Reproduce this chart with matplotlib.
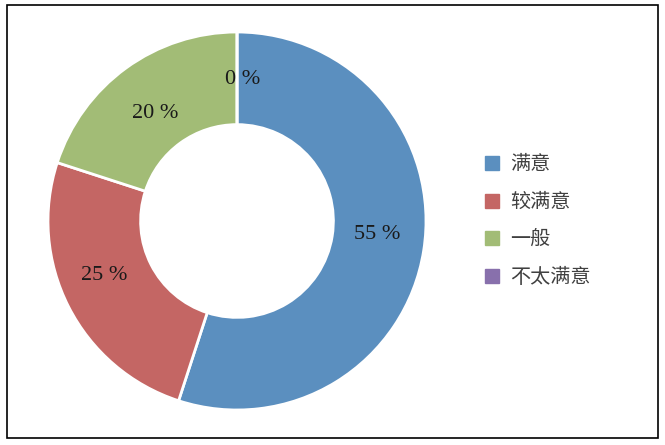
import matplotlib
matplotlib.use("Agg")
import matplotlib.pyplot as plt
from matplotlib.lines import Line2D
from matplotlib.patches import Rectangle
import numpy as np

categories = ["满意", "较满意", "一般", "不太满意"]
values = [55, 25, 20, 0]
pct_labels = ["55 %", "25 %", "20 %", "0 %"]
colors = ["#5B8FBF", "#C46664", "#A2BC76", "#8870AC"]

W, H = 665, 445
fig = plt.figure(figsize=(W / 100, H / 100), dpi=100)
fig.patch.set_facecolor("white")

# border
fig.add_artist(Rectangle((7 / W, 1 - 438 / H), (658 - 7) / W, (438 - 5) / H,
                         transform=fig.transFigure, fill=False,
                         edgecolor="#000000", linewidth=1.2))

cx, cy, r = 237, 221, 189
ax = fig.add_axes([(cx - r) / W, 1 - (cy + r) / H, 2 * r / W, 2 * r / H])

wedges, _ = ax.pie(values, colors=colors, startangle=90, counterclock=False,
                   radius=1, wedgeprops=dict(width=0.49, edgecolor="white", linewidth=2))
ax.set_xlim(-1, 1)
ax.set_ylim(-1, 1)
ax.set_aspect("equal")
ax.axis("off")

# small label nudges (axes units) to mimic the original label placement
nudges = [(0.0, 0.045), (-0.035, 0.05), (0.01, -0.04), (0.03, 0.0)]

total = sum(values)
ang = 90.0
for v, lab, (dx, dy) in zip(values, pct_labels, nudges):
    span = 360.0 * v / total
    mid = np.deg2rad(ang - span / 2)
    ang -= span
    x, y = 0.75 * np.cos(mid) + dx, 0.75 * np.sin(mid) + dy
    ax.text(x, y, lab, ha="center", va="center", fontsize=16,
            family="Liberation Serif", color="#1a1a1a")

handles = [Line2D([], [], marker="s", linestyle="none", markersize=10,
                  markerfacecolor=c, markeredgecolor=c) for c in colors]
fig.legend(handles, categories, loc="center left",
           bbox_to_anchor=(462 / W, 1 - 221 / H), frameon=False,
           prop={"family": ["Noto Sans CJK SC", "DejaVu Sans"], "size": 14.5},
           labelcolor="#404040", handletextpad=0.3, labelspacing=0.82,
           handlelength=1.2)

fig.savefig("out.png", dpi=100, facecolor="white")
